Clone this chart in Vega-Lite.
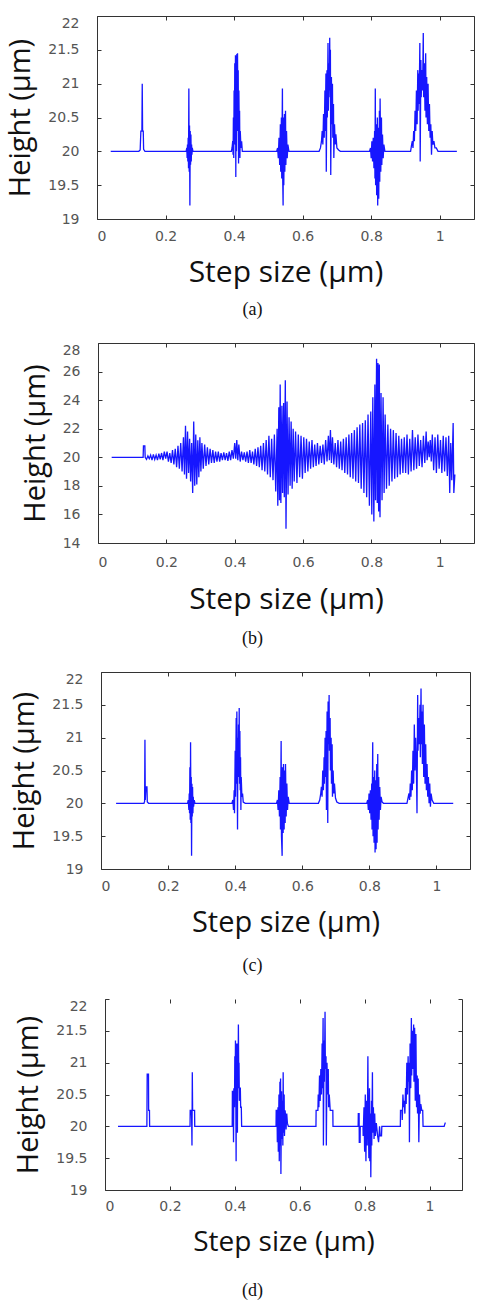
{
  "$schema": "https://vega.github.io/schema/vega-lite/v6.json",
  "background": "white",
  "padding": {"left": 6, "top": 15, "right": 6, "bottom": 0},
  "spacing": 23,
  "config": {
    "view": {"stroke": null},
    "axis": {
      "grid": false,
      "domainColor": "#333333",
      "tickColor": "#333333",
      "tickSize": -4,
      "labelFont": "DejaVu Sans",
      "labelFontSize": 14,
      "labelColor": "#555555",
      "titleFont": "Open Sans",
      "titleFontWeight": "normal",
      "titleColor": "#111111"
    },
    "axisLeft": {"labelPadding": 22, "titlePadding": 12},
    "line": {"color": "#1616ff", "strokeWidth": 1.3},
    "title": {"font": "Liberation Serif", "fontSize": 18, "fontWeight": "normal", "color": "#111111", "orient": "bottom", "frame": "group", "anchor": "middle"}
  },
  "datasets": {
    "a": [
      {"step": 0.04, "height": 20}, {"step": 0.122, "height": 20}, {"step": 0.126, "height": 20.02}, {"step": 0.128, "height": 20.3}, {"step": 0.131, "height": 20.3}, {"step": 0.132, "height": 21.0}, {"step": 0.133, "height": 20.3}, {"step": 0.135, "height": 20.3}, {"step": 0.136, "height": 20.03}, {"step": 0.14, "height": 20},
      {"step": 0.26, "height": 20}, {"step": 0.262, "height": 20.05}, {"step": 0.263, "height": 19.9}, {"step": 0.264, "height": 20.1}, {"step": 0.265, "height": 19.85}, {"step": 0.266, "height": 20.2}, {"step": 0.267, "height": 19.75}, {"step": 0.268, "height": 20.93}, {"step": 0.269, "height": 19.7}, {"step": 0.27, "height": 20.38}, {"step": 0.271, "height": 19.2}, {"step": 0.272, "height": 20.3}, {"step": 0.273, "height": 19.8}, {"step": 0.274, "height": 20.25}, {"step": 0.275, "height": 19.85}, {"step": 0.276, "height": 20.1}, {"step": 0.277, "height": 19.95}, {"step": 0.278, "height": 20.05}, {"step": 0.28, "height": 20},
      {"step": 0.392, "height": 20}, {"step": 0.394, "height": 20.05}, {"step": 0.396, "height": 20.15}, {"step": 0.397, "height": 19.95}, {"step": 0.398, "height": 20.5}, {"step": 0.399, "height": 19.9}, {"step": 0.4, "height": 20.9}, {"step": 0.401, "height": 20.1}, {"step": 0.402, "height": 21.3}, {"step": 0.403, "height": 20.2}, {"step": 0.404, "height": 21.42}, {"step": 0.405, "height": 19.62}, {"step": 0.406, "height": 21.4}, {"step": 0.407, "height": 20.0}, {"step": 0.408, "height": 21.44}, {"step": 0.409, "height": 20.3}, {"step": 0.41, "height": 21.45}, {"step": 0.411, "height": 20.6}, {"step": 0.412, "height": 21.2}, {"step": 0.413, "height": 19.82}, {"step": 0.414, "height": 20.9}, {"step": 0.415, "height": 20.3}, {"step": 0.416, "height": 20.6}, {"step": 0.417, "height": 19.9}, {"step": 0.418, "height": 20.3}, {"step": 0.42, "height": 20.05}, {"step": 0.422, "height": 20.15}, {"step": 0.424, "height": 20}, {"step": 0.43, "height": 20},
      {"step": 0.524, "height": 20}, {"step": 0.527, "height": 20.05}, {"step": 0.529, "height": 19.9}, {"step": 0.531, "height": 20.2}, {"step": 0.533, "height": 19.8}, {"step": 0.535, "height": 20.4}, {"step": 0.536, "height": 19.7}, {"step": 0.538, "height": 20.5}, {"step": 0.539, "height": 19.6}, {"step": 0.541, "height": 20.93}, {"step": 0.542, "height": 19.55}, {"step": 0.543, "height": 19.2}, {"step": 0.544, "height": 20.5}, {"step": 0.545, "height": 19.5}, {"step": 0.547, "height": 20.55}, {"step": 0.548, "height": 19.7}, {"step": 0.55, "height": 20.6}, {"step": 0.551, "height": 19.8}, {"step": 0.553, "height": 20.3}, {"step": 0.555, "height": 19.9}, {"step": 0.557, "height": 20.1}, {"step": 0.56, "height": 20},
      {"step": 0.648, "height": 20}, {"step": 0.652, "height": 20.05}, {"step": 0.655, "height": 20.15}, {"step": 0.657, "height": 20.3}, {"step": 0.659, "height": 20.1}, {"step": 0.661, "height": 20.55}, {"step": 0.663, "height": 20.2}, {"step": 0.665, "height": 20.9}, {"step": 0.666, "height": 20.3}, {"step": 0.668, "height": 21.15}, {"step": 0.669, "height": 19.7}, {"step": 0.671, "height": 21.2}, {"step": 0.672, "height": 20.5}, {"step": 0.674, "height": 21.6}, {"step": 0.675, "height": 20.6}, {"step": 0.677, "height": 21.3}, {"step": 0.678, "height": 20.9}, {"step": 0.679, "height": 21.68}, {"step": 0.68, "height": 20.8}, {"step": 0.681, "height": 21.5}, {"step": 0.682, "height": 19.65}, {"step": 0.684, "height": 21.1}, {"step": 0.685, "height": 20.4}, {"step": 0.687, "height": 21.0}, {"step": 0.688, "height": 20.2}, {"step": 0.69, "height": 20.7}, {"step": 0.691, "height": 19.9}, {"step": 0.693, "height": 20.4}, {"step": 0.695, "height": 20.1}, {"step": 0.697, "height": 20.25}, {"step": 0.7, "height": 20.05}, {"step": 0.705, "height": 20.02}, {"step": 0.71, "height": 20},
      {"step": 0.795, "height": 20}, {"step": 0.798, "height": 20.05}, {"step": 0.8, "height": 19.9}, {"step": 0.802, "height": 20.15}, {"step": 0.804, "height": 19.85}, {"step": 0.806, "height": 20.2}, {"step": 0.808, "height": 19.75}, {"step": 0.81, "height": 20.3}, {"step": 0.811, "height": 19.6}, {"step": 0.812, "height": 20.93}, {"step": 0.813, "height": 19.5}, {"step": 0.815, "height": 20.4}, {"step": 0.816, "height": 19.35}, {"step": 0.818, "height": 20.5}, {"step": 0.819, "height": 19.2}, {"step": 0.821, "height": 20.35}, {"step": 0.822, "height": 19.3}, {"step": 0.824, "height": 20.6}, {"step": 0.825, "height": 19.55}, {"step": 0.826, "height": 20.78}, {"step": 0.828, "height": 19.7}, {"step": 0.83, "height": 20.5}, {"step": 0.831, "height": 19.8}, {"step": 0.833, "height": 20.25}, {"step": 0.835, "height": 19.9}, {"step": 0.837, "height": 20.1}, {"step": 0.84, "height": 20},
      {"step": 0.915, "height": 20}, {"step": 0.918, "height": 20.1}, {"step": 0.92, "height": 20.15}, {"step": 0.922, "height": 20.05}, {"step": 0.924, "height": 20.3}, {"step": 0.926, "height": 20.15}, {"step": 0.928, "height": 20.6}, {"step": 0.93, "height": 20.3}, {"step": 0.932, "height": 20.9}, {"step": 0.934, "height": 20.4}, {"step": 0.936, "height": 21.2}, {"step": 0.937, "height": 20.6}, {"step": 0.939, "height": 21.15}, {"step": 0.94, "height": 20.7}, {"step": 0.942, "height": 21.6}, {"step": 0.943, "height": 19.85}, {"step": 0.945, "height": 21.35}, {"step": 0.946, "height": 20.8}, {"step": 0.948, "height": 21.2}, {"step": 0.95, "height": 20.9}, {"step": 0.952, "height": 21.75}, {"step": 0.953, "height": 20.8}, {"step": 0.955, "height": 21.3}, {"step": 0.957, "height": 20.6}, {"step": 0.959, "height": 21.45}, {"step": 0.96, "height": 20.5}, {"step": 0.962, "height": 21.1}, {"step": 0.964, "height": 20.4}, {"step": 0.966, "height": 21.0}, {"step": 0.968, "height": 20.3}, {"step": 0.97, "height": 20.7}, {"step": 0.972, "height": 20.2}, {"step": 0.974, "height": 20.4}, {"step": 0.976, "height": 19.95}, {"step": 0.978, "height": 20.3}, {"step": 0.98, "height": 20.1}, {"step": 0.983, "height": 20.15}, {"step": 0.986, "height": 20.05}, {"step": 0.99, "height": 20.05}, {"step": 0.995, "height": 20}, {"step": 1.05, "height": 20}
    ],
    "b": [
      {"step": 0.04, "height": 20}, {"step": 0.132, "height": 20}, {"step": 0.133, "height": 20.8}, {"step": 0.137, "height": 20.8}, {"step": 0.138, "height": 20}, {"step": 0.142, "height": 19.85}, {"step": 0.146, "height": 20.1}, {"step": 0.15, "height": 19.9}, {"step": 0.154, "height": 20.15}, {"step": 0.158, "height": 19.8}, {"step": 0.162, "height": 20.2}, {"step": 0.166, "height": 19.85}, {"step": 0.17, "height": 20.15}, {"step": 0.174, "height": 19.8}, {"step": 0.178, "height": 20.25}, {"step": 0.182, "height": 19.85}, {"step": 0.186, "height": 20.3}, {"step": 0.19, "height": 19.8}, {"step": 0.194, "height": 20.4}, {"step": 0.198, "height": 19.9}, {"step": 0.202, "height": 20.4}, {"step": 0.206, "height": 19.7}, {"step": 0.21, "height": 20.3}, {"step": 0.214, "height": 19.6}, {"step": 0.218, "height": 20.5}, {"step": 0.222, "height": 19.5}, {"step": 0.226, "height": 20.6}, {"step": 0.23, "height": 19.3}, {"step": 0.234, "height": 20.8}, {"step": 0.238, "height": 19.2}, {"step": 0.242, "height": 21.0}, {"step": 0.246, "height": 19.0}, {"step": 0.25, "height": 21.4}, {"step": 0.253, "height": 18.8}, {"step": 0.256, "height": 22.2}, {"step": 0.259, "height": 18.5}, {"step": 0.262, "height": 21.8}, {"step": 0.265, "height": 18.9}, {"step": 0.268, "height": 21.3}, {"step": 0.271, "height": 18.3}, {"step": 0.274, "height": 21.0}, {"step": 0.277, "height": 17.5}, {"step": 0.28, "height": 22.5}, {"step": 0.283, "height": 18.0}, {"step": 0.286, "height": 21.6}, {"step": 0.289, "height": 18.1}, {"step": 0.292, "height": 21.2}, {"step": 0.295, "height": 18.6}, {"step": 0.298, "height": 21.4}, {"step": 0.301, "height": 19.0}, {"step": 0.304, "height": 21.0}, {"step": 0.308, "height": 19.2}, {"step": 0.312, "height": 20.9}, {"step": 0.316, "height": 19.4}, {"step": 0.32, "height": 20.7}, {"step": 0.324, "height": 19.5}, {"step": 0.328, "height": 20.6}, {"step": 0.332, "height": 19.6}, {"step": 0.336, "height": 20.5}, {"step": 0.34, "height": 19.6}, {"step": 0.344, "height": 20.4}, {"step": 0.348, "height": 19.7}, {"step": 0.352, "height": 20.4}, {"step": 0.356, "height": 19.7}, {"step": 0.36, "height": 20.3}, {"step": 0.364, "height": 19.8}, {"step": 0.368, "height": 20.35}, {"step": 0.372, "height": 19.8}, {"step": 0.376, "height": 20.3}, {"step": 0.38, "height": 19.75}, {"step": 0.384, "height": 20.4}, {"step": 0.388, "height": 19.8}, {"step": 0.392, "height": 20.5}, {"step": 0.396, "height": 19.9}, {"step": 0.4, "height": 21.0}, {"step": 0.403, "height": 19.9}, {"step": 0.406, "height": 21.2}, {"step": 0.409, "height": 19.8}, {"step": 0.412, "height": 20.9}, {"step": 0.416, "height": 19.7}, {"step": 0.42, "height": 20.4}, {"step": 0.424, "height": 19.8}, {"step": 0.428, "height": 20.35}, {"step": 0.432, "height": 19.7}, {"step": 0.436, "height": 20.4}, {"step": 0.44, "height": 19.6}, {"step": 0.444, "height": 20.5}, {"step": 0.448, "height": 19.6}, {"step": 0.452, "height": 20.4}, {"step": 0.456, "height": 19.5}, {"step": 0.46, "height": 20.6}, {"step": 0.464, "height": 19.4}, {"step": 0.468, "height": 20.7}, {"step": 0.472, "height": 19.3}, {"step": 0.476, "height": 20.8}, {"step": 0.48, "height": 19.1}, {"step": 0.484, "height": 21.0}, {"step": 0.488, "height": 19.0}, {"step": 0.492, "height": 21.2}, {"step": 0.496, "height": 18.8}, {"step": 0.5, "height": 21.5}, {"step": 0.504, "height": 18.6}, {"step": 0.508, "height": 21.3}, {"step": 0.512, "height": 18.4}, {"step": 0.516, "height": 21.6}, {"step": 0.52, "height": 17.6}, {"step": 0.524, "height": 22.0}, {"step": 0.526, "height": 16.6}, {"step": 0.529, "height": 23.5}, {"step": 0.531, "height": 17.0}, {"step": 0.533, "height": 25.1}, {"step": 0.535, "height": 16.8}, {"step": 0.538, "height": 23.6}, {"step": 0.54, "height": 17.5}, {"step": 0.543, "height": 23.8}, {"step": 0.545, "height": 17.2}, {"step": 0.548, "height": 25.4}, {"step": 0.55, "height": 15.0}, {"step": 0.553, "height": 23.9}, {"step": 0.556, "height": 17.4}, {"step": 0.559, "height": 22.8}, {"step": 0.562, "height": 18.0}, {"step": 0.565, "height": 22.5}, {"step": 0.568, "height": 17.8}, {"step": 0.571, "height": 22.0}, {"step": 0.574, "height": 18.3}, {"step": 0.578, "height": 21.8}, {"step": 0.582, "height": 18.2}, {"step": 0.586, "height": 21.6}, {"step": 0.59, "height": 18.6}, {"step": 0.594, "height": 21.5}, {"step": 0.598, "height": 18.5}, {"step": 0.602, "height": 21.4}, {"step": 0.606, "height": 18.9}, {"step": 0.61, "height": 21.3}, {"step": 0.614, "height": 19.0}, {"step": 0.618, "height": 21.1}, {"step": 0.622, "height": 19.2}, {"step": 0.626, "height": 21.2}, {"step": 0.63, "height": 19.3}, {"step": 0.634, "height": 20.9}, {"step": 0.638, "height": 19.4}, {"step": 0.642, "height": 21.0}, {"step": 0.646, "height": 19.5}, {"step": 0.65, "height": 20.8}, {"step": 0.654, "height": 19.6}, {"step": 0.658, "height": 20.9}, {"step": 0.662, "height": 19.5}, {"step": 0.666, "height": 21.2}, {"step": 0.67, "height": 19.7}, {"step": 0.674, "height": 21.5}, {"step": 0.677, "height": 19.8}, {"step": 0.68, "height": 21.9}, {"step": 0.683, "height": 19.6}, {"step": 0.686, "height": 21.4}, {"step": 0.69, "height": 19.5}, {"step": 0.694, "height": 21.0}, {"step": 0.698, "height": 19.3}, {"step": 0.702, "height": 21.2}, {"step": 0.706, "height": 19.2}, {"step": 0.71, "height": 21.1}, {"step": 0.714, "height": 19.1}, {"step": 0.718, "height": 21.3}, {"step": 0.722, "height": 18.9}, {"step": 0.726, "height": 21.4}, {"step": 0.73, "height": 18.8}, {"step": 0.734, "height": 21.6}, {"step": 0.738, "height": 18.6}, {"step": 0.742, "height": 21.7}, {"step": 0.746, "height": 18.5}, {"step": 0.75, "height": 21.9}, {"step": 0.754, "height": 18.3}, {"step": 0.758, "height": 22.1}, {"step": 0.762, "height": 18.2}, {"step": 0.766, "height": 22.3}, {"step": 0.77, "height": 17.8}, {"step": 0.774, "height": 22.4}, {"step": 0.778, "height": 17.5}, {"step": 0.782, "height": 22.6}, {"step": 0.786, "height": 17.2}, {"step": 0.79, "height": 23.0}, {"step": 0.794, "height": 16.6}, {"step": 0.798, "height": 23.2}, {"step": 0.801, "height": 16.0}, {"step": 0.804, "height": 24.2}, {"step": 0.807, "height": 15.5}, {"step": 0.81, "height": 25.1}, {"step": 0.812, "height": 17.0}, {"step": 0.815, "height": 26.9}, {"step": 0.817, "height": 16.8}, {"step": 0.819, "height": 26.6}, {"step": 0.821, "height": 16.2}, {"step": 0.823, "height": 26.5}, {"step": 0.825, "height": 15.8}, {"step": 0.828, "height": 24.5}, {"step": 0.831, "height": 17.0}, {"step": 0.834, "height": 24.2}, {"step": 0.837, "height": 17.5}, {"step": 0.84, "height": 23.0}, {"step": 0.844, "height": 17.8}, {"step": 0.848, "height": 22.3}, {"step": 0.852, "height": 18.0}, {"step": 0.856, "height": 22.0}, {"step": 0.86, "height": 18.3}, {"step": 0.864, "height": 21.9}, {"step": 0.868, "height": 18.5}, {"step": 0.872, "height": 21.7}, {"step": 0.876, "height": 18.6}, {"step": 0.88, "height": 21.5}, {"step": 0.884, "height": 18.8}, {"step": 0.888, "height": 21.3}, {"step": 0.892, "height": 18.9}, {"step": 0.896, "height": 21.4}, {"step": 0.9, "height": 18.9}, {"step": 0.904, "height": 21.6}, {"step": 0.908, "height": 18.8}, {"step": 0.912, "height": 21.3}, {"step": 0.916, "height": 19.0}, {"step": 0.92, "height": 21.9}, {"step": 0.924, "height": 19.1}, {"step": 0.928, "height": 21.4}, {"step": 0.932, "height": 19.2}, {"step": 0.936, "height": 21.6}, {"step": 0.94, "height": 19.4}, {"step": 0.944, "height": 21.2}, {"step": 0.948, "height": 19.3}, {"step": 0.952, "height": 21.5}, {"step": 0.956, "height": 19.6}, {"step": 0.96, "height": 21.8}, {"step": 0.963, "height": 19.8}, {"step": 0.966, "height": 21.1}, {"step": 0.969, "height": 20.0}, {"step": 0.972, "height": 21.2}, {"step": 0.975, "height": 19.7}, {"step": 0.978, "height": 21.6}, {"step": 0.982, "height": 19.1}, {"step": 0.986, "height": 21.4}, {"step": 0.99, "height": 18.9}, {"step": 0.994, "height": 21.6}, {"step": 0.998, "height": 19.2}, {"step": 1.002, "height": 21.2}, {"step": 1.006, "height": 18.9}, {"step": 1.01, "height": 21.5}, {"step": 1.014, "height": 19.0}, {"step": 1.018, "height": 21.4}, {"step": 1.022, "height": 18.7}, {"step": 1.026, "height": 21.5}, {"step": 1.029, "height": 17.5}, {"step": 1.032, "height": 21.0}, {"step": 1.035, "height": 18.4}, {"step": 1.039, "height": 22.4}, {"step": 1.041, "height": 17.5}, {"step": 1.044, "height": 18.8}
    ],
    "c": [
      {"step": 0.045, "height": 20}, {"step": 0.128, "height": 20}, {"step": 0.13, "height": 20.03}, {"step": 0.131, "height": 20.97}, {"step": 0.132, "height": 20.05}, {"step": 0.134, "height": 20.25}, {"step": 0.137, "height": 20.25}, {"step": 0.138, "height": 20.02}, {"step": 0.142, "height": 20},
      {"step": 0.258, "height": 20}, {"step": 0.26, "height": 20.05}, {"step": 0.262, "height": 19.9}, {"step": 0.263, "height": 20.15}, {"step": 0.264, "height": 19.85}, {"step": 0.265, "height": 20.55}, {"step": 0.266, "height": 19.75}, {"step": 0.267, "height": 20.93}, {"step": 0.268, "height": 19.7}, {"step": 0.269, "height": 20.4}, {"step": 0.27, "height": 19.2}, {"step": 0.271, "height": 20.3}, {"step": 0.272, "height": 19.8}, {"step": 0.273, "height": 20.25}, {"step": 0.274, "height": 19.85}, {"step": 0.275, "height": 20.1}, {"step": 0.276, "height": 19.95}, {"step": 0.278, "height": 20.05}, {"step": 0.28, "height": 20},
      {"step": 0.39, "height": 20}, {"step": 0.393, "height": 20.05}, {"step": 0.395, "height": 19.9}, {"step": 0.397, "height": 20.2}, {"step": 0.398, "height": 19.85}, {"step": 0.4, "height": 20.8}, {"step": 0.401, "height": 20.1}, {"step": 0.403, "height": 21.3}, {"step": 0.404, "height": 20.3}, {"step": 0.405, "height": 21.4}, {"step": 0.406, "height": 20.5}, {"step": 0.407, "height": 19.6}, {"step": 0.408, "height": 21.0}, {"step": 0.409, "height": 20.4}, {"step": 0.41, "height": 21.2}, {"step": 0.411, "height": 20.6}, {"step": 0.412, "height": 21.45}, {"step": 0.413, "height": 20.3}, {"step": 0.414, "height": 21.1}, {"step": 0.415, "height": 20.2}, {"step": 0.416, "height": 20.7}, {"step": 0.417, "height": 19.9}, {"step": 0.418, "height": 20.4}, {"step": 0.42, "height": 20.1}, {"step": 0.422, "height": 20.15}, {"step": 0.424, "height": 20.02}, {"step": 0.43, "height": 20},
      {"step": 0.523, "height": 20}, {"step": 0.526, "height": 20.05}, {"step": 0.528, "height": 19.9}, {"step": 0.53, "height": 20.2}, {"step": 0.532, "height": 19.8}, {"step": 0.534, "height": 20.4}, {"step": 0.535, "height": 19.6}, {"step": 0.537, "height": 20.95}, {"step": 0.538, "height": 19.5}, {"step": 0.54, "height": 19.2}, {"step": 0.541, "height": 20.55}, {"step": 0.543, "height": 19.55}, {"step": 0.544, "height": 20.6}, {"step": 0.546, "height": 19.6}, {"step": 0.547, "height": 20.5}, {"step": 0.549, "height": 19.7}, {"step": 0.55, "height": 20.6}, {"step": 0.552, "height": 19.8}, {"step": 0.554, "height": 20.3}, {"step": 0.556, "height": 19.9}, {"step": 0.558, "height": 20.1}, {"step": 0.561, "height": 20},
      {"step": 0.648, "height": 20}, {"step": 0.652, "height": 20.05}, {"step": 0.655, "height": 20.15}, {"step": 0.657, "height": 20.25}, {"step": 0.659, "height": 20.1}, {"step": 0.661, "height": 20.5}, {"step": 0.663, "height": 20.2}, {"step": 0.665, "height": 20.7}, {"step": 0.666, "height": 20.3}, {"step": 0.668, "height": 21.0}, {"step": 0.669, "height": 20.4}, {"step": 0.671, "height": 21.1}, {"step": 0.672, "height": 19.9}, {"step": 0.674, "height": 21.4}, {"step": 0.675, "height": 20.6}, {"step": 0.676, "height": 19.7}, {"step": 0.677, "height": 21.55}, {"step": 0.679, "height": 20.9}, {"step": 0.68, "height": 21.65}, {"step": 0.681, "height": 20.8}, {"step": 0.683, "height": 21.3}, {"step": 0.684, "height": 20.5}, {"step": 0.686, "height": 21.0}, {"step": 0.687, "height": 20.3}, {"step": 0.689, "height": 20.9}, {"step": 0.69, "height": 20.1}, {"step": 0.692, "height": 20.5}, {"step": 0.694, "height": 20.15}, {"step": 0.696, "height": 20.3}, {"step": 0.699, "height": 20.08}, {"step": 0.703, "height": 20.02}, {"step": 0.71, "height": 20},
      {"step": 0.792, "height": 20}, {"step": 0.795, "height": 20.05}, {"step": 0.797, "height": 19.9}, {"step": 0.799, "height": 20.15}, {"step": 0.801, "height": 19.85}, {"step": 0.803, "height": 20.2}, {"step": 0.805, "height": 19.75}, {"step": 0.807, "height": 20.3}, {"step": 0.808, "height": 19.6}, {"step": 0.81, "height": 20.93}, {"step": 0.811, "height": 19.5}, {"step": 0.813, "height": 20.4}, {"step": 0.814, "height": 19.4}, {"step": 0.816, "height": 20.5}, {"step": 0.817, "height": 19.25}, {"step": 0.819, "height": 20.35}, {"step": 0.82, "height": 19.3}, {"step": 0.822, "height": 20.6}, {"step": 0.823, "height": 19.4}, {"step": 0.825, "height": 20.75}, {"step": 0.826, "height": 19.6}, {"step": 0.828, "height": 20.4}, {"step": 0.829, "height": 19.75}, {"step": 0.831, "height": 20.25}, {"step": 0.833, "height": 19.9}, {"step": 0.835, "height": 20.1}, {"step": 0.838, "height": 20.02}, {"step": 0.842, "height": 20},
      {"step": 0.912, "height": 20}, {"step": 0.914, "height": 20.05}, {"step": 0.918, "height": 20.15}, {"step": 0.92, "height": 20.05}, {"step": 0.922, "height": 20.3}, {"step": 0.924, "height": 20.1}, {"step": 0.926, "height": 20.5}, {"step": 0.928, "height": 20.2}, {"step": 0.93, "height": 20.8}, {"step": 0.932, "height": 20.3}, {"step": 0.934, "height": 21.2}, {"step": 0.936, "height": 20.5}, {"step": 0.938, "height": 21.0}, {"step": 0.94, "height": 20.6}, {"step": 0.942, "height": 19.85}, {"step": 0.944, "height": 21.65}, {"step": 0.945, "height": 20.8}, {"step": 0.947, "height": 21.3}, {"step": 0.949, "height": 20.9}, {"step": 0.951, "height": 21.5}, {"step": 0.952, "height": 20.7}, {"step": 0.954, "height": 21.75}, {"step": 0.955, "height": 20.9}, {"step": 0.957, "height": 21.4}, {"step": 0.958, "height": 20.6}, {"step": 0.96, "height": 21.5}, {"step": 0.962, "height": 20.4}, {"step": 0.964, "height": 21.2}, {"step": 0.966, "height": 20.3}, {"step": 0.968, "height": 20.9}, {"step": 0.97, "height": 20.2}, {"step": 0.972, "height": 20.6}, {"step": 0.974, "height": 20.1}, {"step": 0.976, "height": 20.4}, {"step": 0.978, "height": 20.0}, {"step": 0.98, "height": 20.3}, {"step": 0.982, "height": 19.95}, {"step": 0.984, "height": 20.15}, {"step": 0.987, "height": 20.05}, {"step": 0.992, "height": 20}, {"step": 1.05, "height": 20}
    ],
    "d": [
      {"step": 0.04, "height": 20}, {"step": 0.129, "height": 20}, {"step": 0.13, "height": 20.82}, {"step": 0.134, "height": 20.82}, {"step": 0.1345, "height": 20.25}, {"step": 0.137, "height": 20.25}, {"step": 0.1375, "height": 20},
      {"step": 0.262, "height": 20}, {"step": 0.2625, "height": 20.25}, {"step": 0.266, "height": 20.25}, {"step": 0.267, "height": 20.1}, {"step": 0.268, "height": 19.7}, {"step": 0.269, "height": 20.85}, {"step": 0.27, "height": 20.25}, {"step": 0.276, "height": 20.25}, {"step": 0.2765, "height": 20},
      {"step": 0.392, "height": 20}, {"step": 0.3925, "height": 20.55}, {"step": 0.395, "height": 20.55}, {"step": 0.396, "height": 19.75}, {"step": 0.397, "height": 20.6}, {"step": 0.399, "height": 20.3}, {"step": 0.4, "height": 21.1}, {"step": 0.401, "height": 20.5}, {"step": 0.402, "height": 21.35}, {"step": 0.403, "height": 20.6}, {"step": 0.404, "height": 19.45}, {"step": 0.405, "height": 21.3}, {"step": 0.406, "height": 20.8}, {"step": 0.407, "height": 21.2}, {"step": 0.408, "height": 19.9}, {"step": 0.409, "height": 21.3}, {"step": 0.41, "height": 20.6}, {"step": 0.411, "height": 21.6}, {"step": 0.412, "height": 20.9}, {"step": 0.413, "height": 21.0}, {"step": 0.414, "height": 20.4}, {"step": 0.415, "height": 20.6}, {"step": 0.417, "height": 20.6}, {"step": 0.418, "height": 20.3}, {"step": 0.42, "height": 20.3}, {"step": 0.421, "height": 20},
      {"step": 0.527, "height": 20}, {"step": 0.5275, "height": 20.25}, {"step": 0.53, "height": 20.25}, {"step": 0.531, "height": 19.75}, {"step": 0.533, "height": 20.3}, {"step": 0.534, "height": 19.6}, {"step": 0.536, "height": 20.5}, {"step": 0.537, "height": 19.45}, {"step": 0.539, "height": 20.7}, {"step": 0.54, "height": 19.7}, {"step": 0.541, "height": 20.75}, {"step": 0.542, "height": 19.25}, {"step": 0.544, "height": 20.55}, {"step": 0.545, "height": 19.8}, {"step": 0.547, "height": 20.4}, {"step": 0.548, "height": 19.7}, {"step": 0.549, "height": 20.85}, {"step": 0.55, "height": 19.9}, {"step": 0.552, "height": 20.5}, {"step": 0.553, "height": 19.85}, {"step": 0.555, "height": 20.25}, {"step": 0.557, "height": 20.1}, {"step": 0.558, "height": 19.95}, {"step": 0.56, "height": 20.2}, {"step": 0.562, "height": 20.05}, {"step": 0.565, "height": 20},
      {"step": 0.65, "height": 20}, {"step": 0.6505, "height": 20.25}, {"step": 0.656, "height": 20.25}, {"step": 0.657, "height": 20.5}, {"step": 0.659, "height": 20.3}, {"step": 0.661, "height": 20.8}, {"step": 0.663, "height": 20.4}, {"step": 0.665, "height": 20.9}, {"step": 0.667, "height": 20.5}, {"step": 0.669, "height": 21.3}, {"step": 0.67, "height": 20.6}, {"step": 0.672, "height": 21.7}, {"step": 0.673, "height": 19.7}, {"step": 0.675, "height": 21.35}, {"step": 0.676, "height": 20.7}, {"step": 0.678, "height": 21.8}, {"step": 0.679, "height": 20.9}, {"step": 0.681, "height": 21.1}, {"step": 0.682, "height": 19.7}, {"step": 0.684, "height": 21.0}, {"step": 0.686, "height": 20.5}, {"step": 0.688, "height": 20.9}, {"step": 0.689, "height": 20.3}, {"step": 0.691, "height": 20.5}, {"step": 0.694, "height": 20.25}, {"step": 0.702, "height": 20.25}, {"step": 0.7025, "height": 20},
      {"step": 0.78, "height": 20}, {"step": 0.7805, "height": 20.2}, {"step": 0.783, "height": 20.2}, {"step": 0.7835, "height": 19.75}, {"step": 0.786, "height": 19.75}, {"step": 0.7865, "height": 20}, {"step": 0.795, "height": 20}, {"step": 0.7955, "height": 19.85}, {"step": 0.798, "height": 20.3}, {"step": 0.8, "height": 19.6}, {"step": 0.802, "height": 20.5}, {"step": 0.804, "height": 19.45}, {"step": 0.806, "height": 20.4}, {"step": 0.808, "height": 19.7}, {"step": 0.81, "height": 21.1}, {"step": 0.811, "height": 20.3}, {"step": 0.813, "height": 19.5}, {"step": 0.815, "height": 20.6}, {"step": 0.816, "height": 19.45}, {"step": 0.818, "height": 20.2}, {"step": 0.819, "height": 19.2}, {"step": 0.821, "height": 20.4}, {"step": 0.822, "height": 19.7}, {"step": 0.824, "height": 20.85}, {"step": 0.825, "height": 19.9}, {"step": 0.827, "height": 20.3}, {"step": 0.829, "height": 19.8}, {"step": 0.831, "height": 20.2}, {"step": 0.833, "height": 19.85}, {"step": 0.836, "height": 20.05}, {"step": 0.84, "height": 19.85}, {"step": 0.843, "height": 19.75}, {"step": 0.846, "height": 20.0}, {"step": 0.848, "height": 19.85}, {"step": 0.852, "height": 19.85}, {"step": 0.853, "height": 20},
      {"step": 0.91, "height": 20}, {"step": 0.9105, "height": 20.25}, {"step": 0.915, "height": 20.25}, {"step": 0.916, "height": 20.1}, {"step": 0.918, "height": 20.5}, {"step": 0.92, "height": 20.3}, {"step": 0.922, "height": 20.4}, {"step": 0.924, "height": 20.2}, {"step": 0.926, "height": 20.6}, {"step": 0.928, "height": 20.35}, {"step": 0.93, "height": 21.0}, {"step": 0.932, "height": 20.5}, {"step": 0.934, "height": 21.1}, {"step": 0.935, "height": 20.7}, {"step": 0.937, "height": 21.0}, {"step": 0.938, "height": 19.75}, {"step": 0.94, "height": 21.3}, {"step": 0.942, "height": 20.6}, {"step": 0.944, "height": 21.7}, {"step": 0.945, "height": 20.8}, {"step": 0.947, "height": 21.5}, {"step": 0.949, "height": 20.9}, {"step": 0.951, "height": 21.6}, {"step": 0.952, "height": 20.7}, {"step": 0.954, "height": 21.55}, {"step": 0.956, "height": 20.4}, {"step": 0.958, "height": 21.45}, {"step": 0.96, "height": 20.3}, {"step": 0.962, "height": 20.8}, {"step": 0.963, "height": 20.2}, {"step": 0.965, "height": 20.75}, {"step": 0.967, "height": 19.75}, {"step": 0.969, "height": 20.5}, {"step": 0.971, "height": 20.2}, {"step": 0.973, "height": 20.35}, {"step": 0.976, "height": 20.25}, {"step": 0.979, "height": 20.25}, {"step": 0.98, "height": 20}, {"step": 1.045, "height": 20}, {"step": 1.048, "height": 20.05}, {"step": 1.05, "height": 20.05}
    ]
  },
  "vconcat": [
    {
      "width": 377, "height": 203,
      "data": {"name": "a"},
      "title": {"text": "(a)", "offset": 14, "dx": -33},
      "layer": [
        {
          "mark": {"type": "line"},
          "encoding": {
            "x": {"field": "step", "type": "quantitative", "scale": {"domain": [0, 1.1], "nice": false, "zero": false},
              "axis": {"orient": "bottom", "values": [0, 0.2, 0.4, 0.6, 0.8, 1], "format": "~g", "title": "Step size (μm)", "titleFontSize": 30, "labelPadding": 14, "titlePadding": 14}},
            "y": {"field": "height", "type": "quantitative", "scale": {"domain": [19, 22], "nice": false, "zero": false},
              "axis": {"orient": "left", "values": [19, 19.5, 20, 20.5, 21, 21.5, 22], "format": "~g", "title": "Height (μm)", "titleFontSize": 29,
                "labelBaseline": {"condition": {"test": "datum.value == 22", "value": "top"}, "value": "middle"}}}
          }
        },
        {
          "mark": {"type": "line", "opacity": 0},
          "encoding": {
            "x": {"field": "step", "type": "quantitative", "axis": {"orient": "top", "values": [0, 0.2, 0.4, 0.6, 0.8, 1], "labels": false, "title": null}},
            "y": {"field": "height", "type": "quantitative", "axis": {"orient": "right", "values": [19, 19.5, 20, 20.5, 21, 21.5, 22], "labels": false, "title": null}}
          }
        }
      ],
      "resolve": {"axis": {"x": "independent", "y": "independent"}}
    },
    {
      "width": 377, "height": 200,
      "data": {"name": "b"},
      "title": {"text": "(b)", "offset": 16, "dx": -33},
      "layer": [
        {
          "mark": {"type": "line"},
          "encoding": {
            "x": {"field": "step", "type": "quantitative", "scale": {"domain": [0, 1.1], "nice": false, "zero": false, "range": [1, 377]},
              "axis": {"orient": "bottom", "values": [0, 0.2, 0.4, 0.6, 0.8, 1], "format": "~g", "title": "Step size (μm)", "titleFontSize": 30, "labelPadding": 16, "titlePadding": 15}},
            "y": {"field": "height", "type": "quantitative", "scale": {"domain": [14, 28], "nice": false, "zero": false},
              "axis": {"orient": "left", "offset": -1, "values": [14, 16, 18, 20, 22, 24, 26, 28], "format": "~g", "title": "Height (μm)", "titleFontSize": 29,
                "labelBaseline": {"condition": {"test": "datum.value == 28", "value": "top"}, "value": "middle"}}}
          }
        },
        {
          "mark": {"type": "line", "opacity": 0},
          "encoding": {
            "x": {"field": "step", "type": "quantitative", "axis": {"orient": "top", "values": [0, 0.2, 0.4, 0.6, 0.8, 1], "labels": false, "title": null}},
            "y": {"field": "height", "type": "quantitative", "axis": {"orient": "right", "values": [14, 16, 18, 20, 22, 24, 26, 28], "labels": false, "title": null}}
          }
        }
      ],
      "resolve": {"axis": {"x": "independent", "y": "independent"}}
    },
    {
      "width": 373, "height": 197,
      "data": {"name": "c"},
      "title": {"text": "(c)", "offset": 20, "dx": -31},
      "layer": [
        {
          "mark": {"type": "line"},
          "encoding": {
            "x": {"field": "step", "type": "quantitative", "scale": {"domain": [0, 1.1], "nice": false, "zero": false, "range": [4, 373]},
              "axis": {"orient": "bottom", "values": [0, 0.2, 0.4, 0.6, 0.8, 1], "format": "~g", "title": "Step size (μm)", "titleFontSize": 29, "labelPadding": 14, "titlePadding": 15}},
            "y": {"field": "height", "type": "quantitative", "scale": {"domain": [19, 22], "nice": false, "zero": false},
              "axis": {"orient": "left", "offset": -4, "values": [19, 19.5, 20, 20.5, 21, 21.5, 22], "format": "~g", "title": "Height (μm)", "titleFontSize": 29,
                "labelBaseline": {"condition": {"test": "datum.value == 22", "value": "top"}, "value": "middle"}}}
          }
        },
        {
          "mark": {"type": "line", "opacity": 0},
          "encoding": {
            "x": {"field": "step", "type": "quantitative", "axis": {"orient": "top", "values": [0, 0.2, 0.4, 0.6, 0.8, 1], "labels": false, "title": null}},
            "y": {"field": "height", "type": "quantitative", "axis": {"orient": "right", "values": [19, 19.5, 20, 20.5, 21, 21.5, 22], "labels": false, "title": null}}
          }
        }
      ],
      "resolve": {"axis": {"x": "independent", "y": "independent"}}
    },
    {
      "width": 365, "height": 191,
      "data": {"name": "d"},
      "title": {"text": "(d)", "offset": 26, "dx": -27},
      "layer": [
        {
          "mark": {"type": "line"},
          "encoding": {
            "x": {"field": "step", "type": "quantitative", "scale": {"domain": [0, 1.1], "nice": false, "zero": false, "range": [8, 365]},
              "axis": {"orient": "bottom", "values": [0, 0.2, 0.4, 0.6, 0.8, 1], "format": "~g", "title": "Step size (μm)", "titleFontSize": 28, "labelPadding": 13, "titlePadding": 15}},
            "y": {"field": "height", "type": "quantitative", "scale": {"domain": [19, 22], "nice": false, "zero": false},
              "axis": {"orient": "left", "offset": -8, "values": [19, 19.5, 20, 20.5, 21, 21.5, 22], "format": "~g", "title": "Height (μm)", "titleFontSize": 29,
                "labelBaseline": {"condition": {"test": "datum.value == 22", "value": "top"}, "value": "middle"}}}
          }
        },
        {
          "mark": {"type": "line", "opacity": 0},
          "encoding": {
            "x": {"field": "step", "type": "quantitative", "axis": {"orient": "top", "values": [0, 0.2, 0.4, 0.6, 0.8, 1], "labels": false, "title": null, "domain": false}},
            "y": {"field": "height", "type": "quantitative", "axis": {"orient": "right", "values": [19, 19.5, 20, 20.5, 21, 21.5, 22], "labels": false, "title": null}}
          }
        }
      ],
      "resolve": {"axis": {"x": "independent", "y": "independent"}}
    }
  ]
}
